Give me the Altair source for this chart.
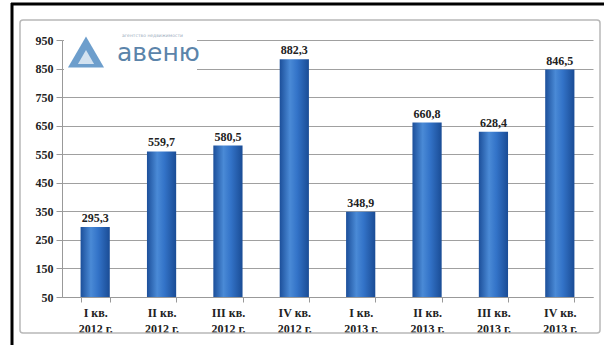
import altair as alt
import pandas as pd

quarters = ["I кв.|2012 г.", "II кв.|2012 г.", "III кв.|2012 г.", "IV кв.|2012 г.",
            "I кв.|2013 г.", "II кв.|2013 г.", "III кв.|2013 г.", "IV кв.|2013 г."]
values = [295.3, 559.7, 580.5, 882.3, 348.9, 660.8, 628.4, 846.5]
y_ticks = [50, 150, 250, 350, 450, 550, 650, 750, 850, 950]

df = pd.DataFrame({
    "q": quarters,
    "v": values,
    "lbl": [f"{v:.1f}".replace(".", ",") for v in values],
})

W, H = 531, 257
serif = "Liberation Serif"

x_enc = alt.X("q:N", sort=quarters, title=None,
              scale=alt.Scale(paddingInner=0.56, paddingOuter=0.28),
              axis=alt.Axis(labelExpr="split(datum.label, '|')", labelAngle=0,
                            labelFont=serif, labelFontWeight="bold", labelFontSize=12,
                            labelColor="#222", labelLineHeight=16, labelPadding=5,
                            tickBand="extent", tickColor="#999", tickSize=5,
                            domainColor="#999", grid=False))
y_scale = alt.Scale(domain=[50, 950], zero=False, nice=False)

base = alt.Chart(df)

grad = alt.Gradient(gradient="linear", x1=0, x2=1, y1=0, y2=0,
                    stops=[alt.GradientStop(offset=0, color="#1c4f9a"),
                           alt.GradientStop(offset=0.35, color="#4a8ad6"),
                           alt.GradientStop(offset=0.6, color="#3373c8"),
                           alt.GradientStop(offset=1, color="#1a4c95")])

bars = base.mark_bar(color=grad).encode(
    x=x_enc,
    y=alt.Y("v:Q", scale=y_scale, title=None,
            axis=alt.Axis(values=y_ticks, tickCount=20, labelOverlap=False,
                          labelFlush=False,
                          labelFont=serif, labelFontWeight="bold",
                          labelFontSize=12, labelColor="#222", tickColor="#999",
                          tickSize=6, labelPadding=3, domainColor="#999",
                          gridColor="#a0a0a0", gridWidth=1)),
    y2=alt.datum(50),
)

labels = base.mark_text(dy=-9, font=serif, fontWeight="bold", fontSize=12,
                        color="#222").encode(
    x=alt.X("q:N", sort=quarters),
    y=alt.Y("v:Q", scale=y_scale),
    text="lbl:N",
)

deco = alt.Chart(pd.DataFrame({"d": [0]}))

inner_frame = deco.mark_rect(fill=None, stroke="#b8b8b8", strokeWidth=1.5,
                             cornerRadius=3).encode(
    x=alt.value(-42), x2=alt.value(538), y=alt.value(-20), y2=alt.value(293))
top_line = deco.mark_rule(color="#000", strokeWidth=3).encode(
    x=alt.value(-51), x2=alt.value(545), y=alt.value(-36))
left_line = deco.mark_rule(color="#000", strokeWidth=3).encode(
    x=alt.value(-50), y=alt.value(-37), y2=alt.value(310))

logo_bg = deco.mark_rect(fill="white").encode(
    x=alt.value(2), x2=alt.value(135), y=alt.value(-12), y2=alt.value(34))
logo_icon = deco.mark_point(shape="triangle-up", filled=True, size=1300,
                            color="#5d93c7", opacity=0.9).encode(
    x=alt.value(24), y=alt.value(12))
logo_icon2 = deco.mark_point(shape="triangle-up", filled=True, size=260,
                             color="white").encode(
    x=alt.value(24), y=alt.value(17))
logo_text = deco.mark_text(text="авеню", font="DejaVu Sans", fontSize=25,
                           fontWeight="normal", color="#5b84aa", align="left",
                           baseline="middle").encode(
    x=alt.value(55), y=alt.value(13))
logo_small = deco.mark_text(text="агентство недвижимости", font="DejaVu Sans",
                            fontSize=4.5, color="#9ab", align="left",
                            baseline="middle").encode(
    x=alt.value(60), y=alt.value(-4))

chart = alt.layer(inner_frame, top_line, left_line, bars, labels,
                  logo_bg, logo_icon, logo_icon2, logo_text, logo_small).properties(
    width=W, height=H,
    autosize=alt.AutoSizeParams(type="none"),
    padding={"left": 62, "top": 40, "right": 11, "bottom": 48},
    background="white",
).configure_view(stroke=None)

chart.save("out.html", embed_options={"renderer": "svg", "actions": False})
